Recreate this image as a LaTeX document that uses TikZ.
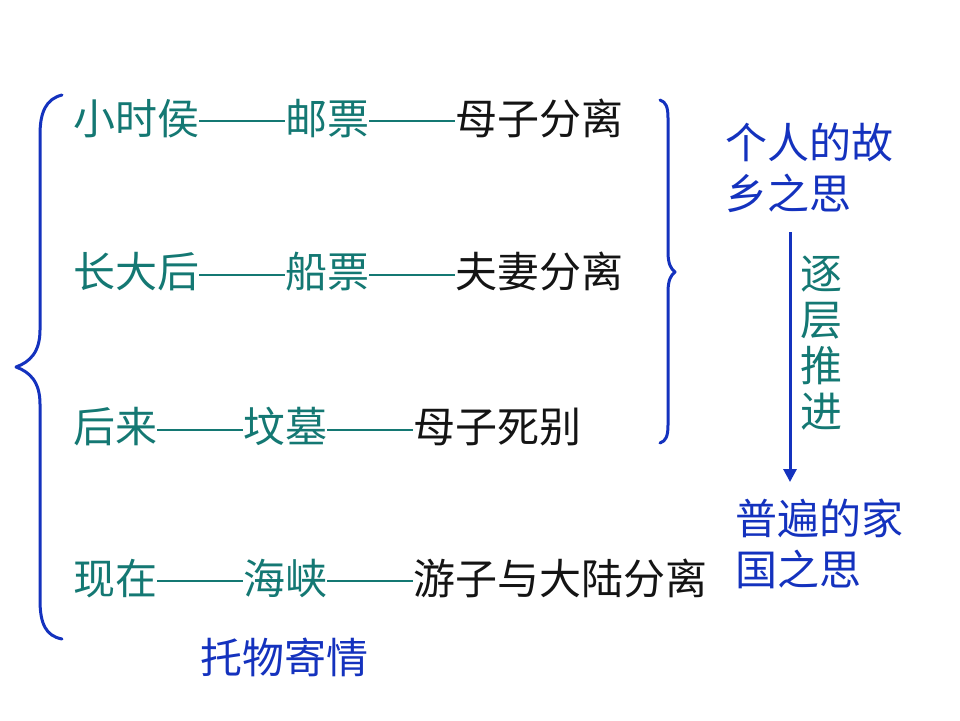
\documentclass[tikz,border=0pt]{standalone}
\usepackage{fontspec}
\setmainfont{Noto Sans CJK SC}
\usetikzlibrary{arrows.meta}
\definecolor{tealT}{RGB}{20,120,115}
\definecolor{blueT}{RGB}{20,50,190}
\definecolor{blackT}{RGB}{20,20,20}
\newcommand{\longdash}{\textcolor{tealT}{\rule[12pt]{86pt}{1.8pt}}}
\tikzset{
  rowtext/.style={anchor=west,inner sep=0pt,font=\fontsize{42}{48}\selectfont},
  sidetext/.style={anchor=north west,inner sep=0pt,align=left,text=blueT,font=\fontsize{42}{51}\selectfont},
  bracestyle/.style={draw=blueT,line width=3pt,line cap=round,line join=round},
  arrowstyle/.style={draw=blueT,line width=3pt,-{Triangle[length=13pt,width=13pt]}}
}
\begin{document}
\begin{tikzpicture}[x=1pt,y=-1pt]
\useasboundingbox (0,0) rectangle (960,720);
\fill[white] (0,0) rectangle (960,720);

\node[rowtext] (r1) at (73,118) {\textcolor{tealT}{小时侯}\longdash\textcolor{tealT}{邮票}\longdash\textcolor{blackT}{母子分离}};
\node[rowtext] (r2) at (73,272) {\textcolor{tealT}{长大后}\longdash\textcolor{tealT}{船票}\longdash\textcolor{blackT}{夫妻分离}};
\node[rowtext] (r3) at (73,427) {\textcolor{tealT}{后来}\longdash\textcolor{tealT}{坟墓}\longdash\textcolor{blackT}{母子死别}};
\node[rowtext] (r4) at (73,578) {\textcolor{tealT}{现在}\longdash\textcolor{tealT}{海峡}\longdash\textcolor{blackT}{游子与大陆分离}};

\node[rowtext,text=blueT] (tw) at (200,657) {托物寄情};

% left brace
\draw[bracestyle] (62,95) .. controls (46,99) and (40,112) .. (40,135) -- (40,330)
  .. controls (40,352) and (30,362) .. (16,367)
  .. controls (30,372) and (40,382) .. (40,404) -- (40,600)
  .. controls (40,624) and (46,636) .. (62,639);

% right brace
\draw[bracestyle] (660,100) .. controls (666,102) and (668,107) .. (668,118) -- (668,252)
  .. controls (668,264) and (671,269) .. (675,272)
  .. controls (671,275) and (668,280) .. (668,292) -- (668,425)
  .. controls (668,436) and (666,441) .. (660,443);

\node[sidetext] (g1) at (725,123) {个人的故\\乡之思};
\node[sidetext] (g2) at (735,499) {普遍的家\\国之思};

\coordinate (aTop) at (790,232);
\coordinate (aBot) at (790,482);
\draw[arrowstyle] (aTop) -- (aBot);

\node[inner sep=0pt,align=center,text=tealT,font=\fontsize{42}{46}\selectfont] (zc) at (821,343) {逐\\层\\推\\进};
\end{tikzpicture}
\end{document}
